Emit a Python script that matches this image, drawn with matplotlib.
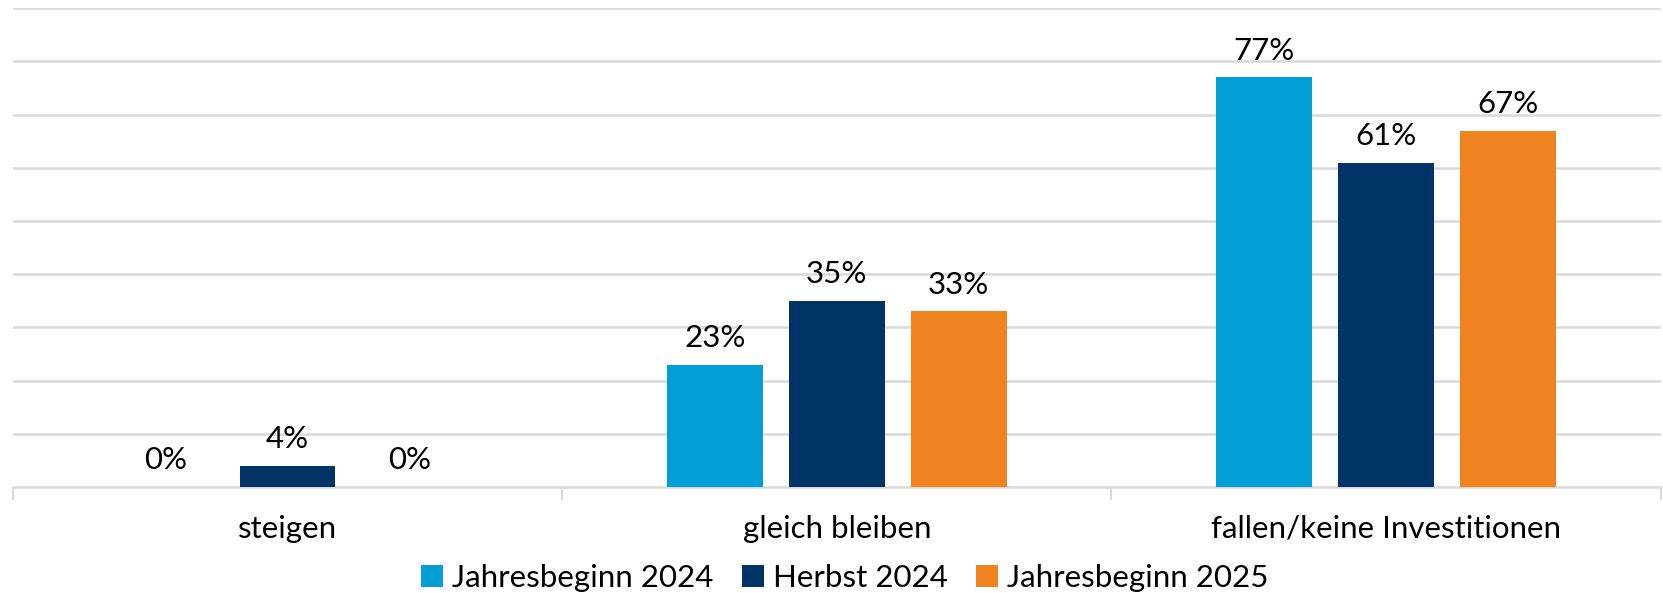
import numpy as np
import matplotlib.pyplot as plt

plt.rcParams['font.family'] = ['Lato', 'DejaVu Sans']

categories = ['steigen', 'gleich bleiben', 'fallen/keine Investitionen']
series = ['Jahresbeginn 2024', 'Herbst 2024', 'Jahresbeginn 2025']
jb2024 = [0, 23, 77]
hb2024 = [4, 35, 61]
jb2025 = [0, 33, 67]
colors = ['#009FD7', '#003366', '#EE831F']

fig = plt.figure(figsize=(16.63, 5.93), dpi=100)
ax = fig.add_axes([0.0077, 0.179, 0.991, 0.807])

x = np.arange(len(categories))
width = 0.174
step = 0.222
for k, (vals, lab) in enumerate(zip([jb2024, hb2024, jb2025], series)):
    pos = x + (k - 1) * step
    bars = ax.bar(pos, vals, width, color=colors[k], label=lab, zorder=3)
    for b, v in zip(bars, vals):
        ax.text(b.get_x() + b.get_width() / 2, v + 2.4, f'{v}%',
                ha='center', va='bottom', fontsize=22.5)

ax.set_xlim(-0.5, 2.5)
ax.set_ylim(0, 90)
ax.set_yticks(np.arange(10, 91, 10))
ax.yaxis.grid(True, color='#D9D9D9', linewidth=1.8, zorder=0)
ax.tick_params(axis='y', left=False, labelleft=False)

# category boundary ticks
ax.set_xticks([-0.5, 0.5, 1.5, 2.5])
ax.set_xticklabels([])
ax.tick_params(axis='x', length=9, width=1.5, color='#D9D9D9')
ax.set_xticks(x, minor=True)
ax.set_xticklabels(categories, minor=True, fontsize=22.5)
ax.tick_params(axis='x', which='minor', length=0, pad=20)

for s in ['top', 'right', 'left']:
    ax.spines[s].set_visible(False)
ax.spines['bottom'].set_color('#D9D9D9')
ax.spines['bottom'].set_linewidth(1.8)

fig.legend(loc='lower center', bbox_to_anchor=(0.508, -0.045), ncol=3,
           frameon=False, fontsize=22.5, handlelength=0.7, handleheight=0.7,
           handletextpad=0.3, columnspacing=0.9)

fig.savefig('out.png', dpi=100)
